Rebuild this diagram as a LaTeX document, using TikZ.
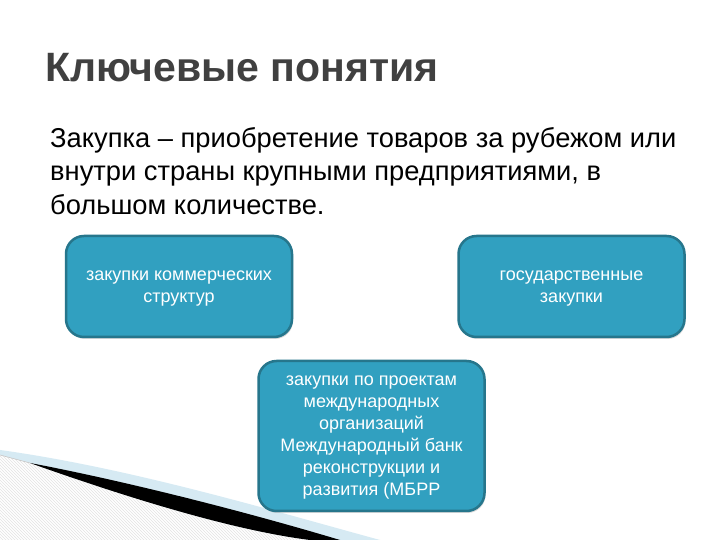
\documentclass[tikz,border=0pt]{standalone}
\usepackage{fontspec}
\setmainfont{Liberation Sans}
\usepackage{tikz}
\usetikzlibrary{positioning, shadows, patterns}
\definecolor{boxfill}{RGB}{49,160,192}
\definecolor{boxline}{RGB}{38,118,140}
\definecolor{titlegray}{RGB}{64,64,64}
\definecolor{swoosh}{RGB}{214,234,243}

\begin{document}
\begin{tikzpicture} [
        x = 1pt, y = 1pt,
        box/.style = {rectangle, rounded corners=18pt, draw=boxline, line width=2.5pt,
                      fill=boxfill, text=white, align=center, minimum width=226pt,
                      font=\fontsize{18}{22}\selectfont, text depth=0pt,
                      drop shadow={opacity=0.3, shadow xshift=1pt, shadow yshift=-2pt}},
        heading/.style = {anchor=base west, inner sep=0pt, text=titlegray,
                      font=\fontsize{41}{46}\selectfont\bfseries},
        body/.style = {anchor=north west, inner sep=0pt, align=left,
                      font=\fontsize{27.3}{33.5}\selectfont}
    ]

    \useasboundingbox (0,0) rectangle (720,540);
    \fill[white] (0,0) rectangle (720,540);

    % swoosh in the corner
    \fill[swoosh] (0,90) .. controls (130,72) and (270,30) .. (380,0) -- (0,0) -- cycle;
    \fill[white] (0,85) -- (30,77) .. controls (120,45) and (230,10) .. (310,0) -- (0,0) -- cycle;
    \fill[pattern=north west lines, pattern color=gray!22]
        (0,85) -- (30,77) .. controls (120,45) and (230,10) .. (310,0) -- (0,0) -- cycle;
    \draw[gray!45, line width=0.6pt] (0,85) -- (30,77);
    \fill[black] (30,77) .. controls (120,60) and (240,30) .. (340,0) -- (310,0)
        .. controls (230,10) and (120,45) .. (30,77) -- cycle;

    \node[heading] (title) at (45,458) {Ключевые понятия};
    \node[body] (def) at (50,413) {Закупка – приобретение товаров за рубежом или\\
        внутри страны крупными предприятиями, в\\
        большом количестве.};

    \node[box, minimum height=101pt] (comm) at (179,253.5) {закупки коммерческих\\структур};
    \node[box, minimum height=101pt, right=164pt of comm] (gov) {государственные\\закупки};
    \node[box, minimum height=150pt] (intl) at (371.5,104) {закупки по проектам\\
        международных\\организаций\\Международный банк\\реконструкции и\\развития (МБРР};

\end{tikzpicture}
\end{document}
